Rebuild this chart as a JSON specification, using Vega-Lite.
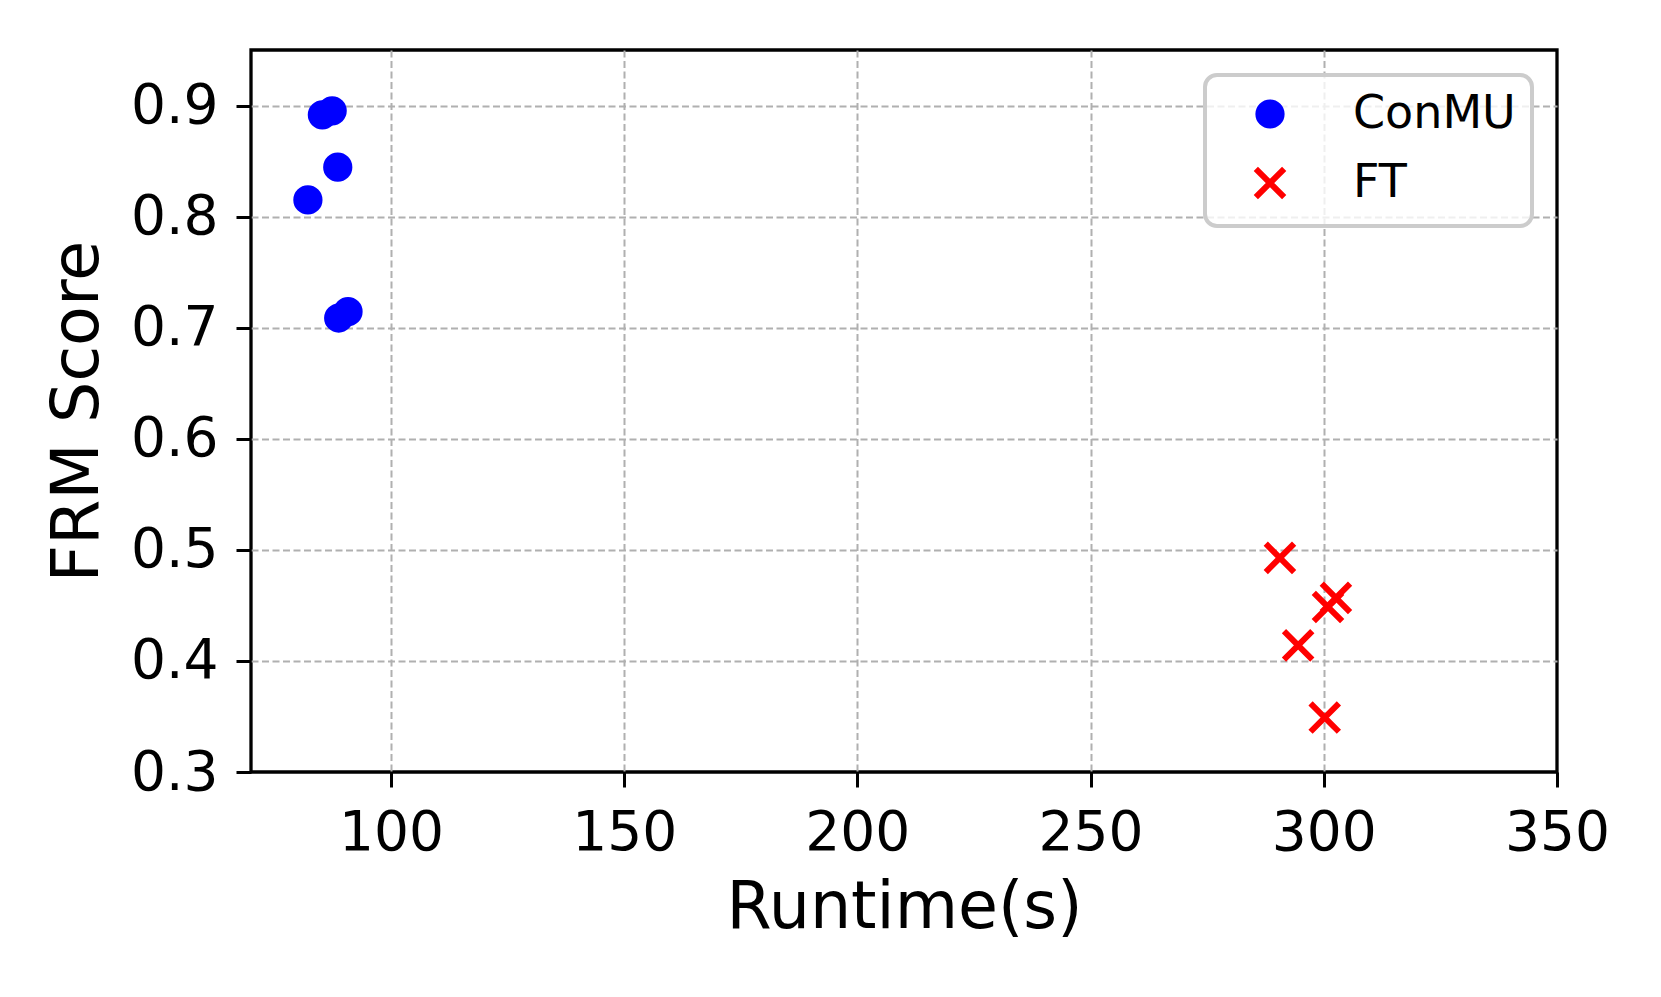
{
  "$schema": "https://vega.github.io/schema/vega-lite/v6.json",
  "autosize": {"type": "none"},
  "width": 1306,
  "height": 722,
  "padding": {"left": 251, "top": 50, "right": 104, "bottom": 225},
  "background": "white",
  "data": {
    "values": [
      {"method": "ConMU", "runtime": 85.3, "frm": 0.8916},
      {"method": "ConMU", "runtime": 87.4, "frm": 0.8952},
      {"method": "ConMU", "runtime": 88.6, "frm": 0.8445},
      {"method": "ConMU", "runtime": 82.2, "frm": 0.815},
      {"method": "ConMU", "runtime": 88.8, "frm": 0.7087},
      {"method": "ConMU", "runtime": 90.8, "frm": 0.7144},
      {"method": "FT", "runtime": 290.6, "frm": 0.4928},
      {"method": "FT", "runtime": 300.9, "frm": 0.4486},
      {"method": "FT", "runtime": 302.6, "frm": 0.4568},
      {"method": "FT", "runtime": 294.5, "frm": 0.414},
      {"method": "FT", "runtime": 300.2, "frm": 0.349}
    ]
  },
  "mark": {"type": "point", "filled": true, "size": 540, "strokeWidth": 6, "opacity": 1, "strokeCap": "butt"},
  "encoding": {
    "x": {
      "field": "runtime", "type": "quantitative",
      "scale": {"domain": [70, 350], "nice": false, "zero": false},
      "axis": {
        "title": "Runtime(s)", "values": [100, 150, 200, 250, 300, 350], "labelPadding": 19, "titlePadding": 16,
        "gridOpacity": {"condition": {"test": "datum.value >= 350", "value": 0}, "value": 1}
      }
    },
    "y": {
      "field": "frm", "type": "quantitative",
      "scale": {"domain": [0.3, 0.95], "nice": false, "zero": false},
      "axis": {
        "title": "FRM Score", "values": [0.3, 0.4, 0.5, 0.6, 0.7, 0.8, 0.9], "format": ".1f", "labelPadding": 18, "titlePadding": 19,
        "gridOpacity": {"condition": {"test": "datum.value <= 0.3", "value": 0}, "value": 1}
      }
    },
    "fill": {
      "field": "method", "type": "nominal",
      "scale": {"domain": ["ConMU", "FT"], "range": ["#0000ff", "#ff0000"]},
      "legend": {"title": null}
    },
    "stroke": {
      "field": "method", "type": "nominal",
      "scale": {"domain": ["ConMU", "FT"], "range": ["#0000ff", "#ff0000"]},
      "legend": {"title": null}
    },
    "shape": {
      "field": "method", "type": "nominal",
      "scale": {"domain": ["ConMU", "FT"], "range": ["circle", "M-1.22,-1.22L1.22,1.22M-1.22,1.22L1.22,-1.22"]},
      "legend": {"title": null}
    }
  },
  "config": {
    "font": "DejaVu Sans",
    "view": {"stroke": "black", "strokeWidth": 3.3},
    "axis": {
      "domain": false,
      "labelFont": "DejaVu Sans",
      "labelFontSize": 55,
      "labelColor": "black",
      "titleFont": "DejaVu Sans",
      "titleFontSize": 65,
      "titleFontWeight": "normal",
      "titleColor": "black",
      "tickColor": "black",
      "tickSize": 15,
      "tickWidth": 3,
      "grid": true,
      "gridColor": "#b0b0b0",
      "gridDash": [7, 3.5],
      "gridWidth": 2,
      "labelFlush": false,
      "labelOverlap": false
    },
    "legend": {
      "orient": "none",
      "legendX": 954,
      "legendY": 25,
      "labelFont": "DejaVu Sans",
      "labelFontSize": 46,
      "labelColor": "black",
      "labelLimit": 1000,
      "symbolSize": 540,
      "symbolStrokeWidth": 6,
      "symbolOffset": 26,
      "labelOffset": 60,
      "padding": 16,
      "rowPadding": 18,
      "strokeColor": "#cccccc",
      "strokeWidth": 4,
      "cornerRadius": 12,
      "fillColor": "rgba(255,255,255,0.8)"
    }
  }
}
